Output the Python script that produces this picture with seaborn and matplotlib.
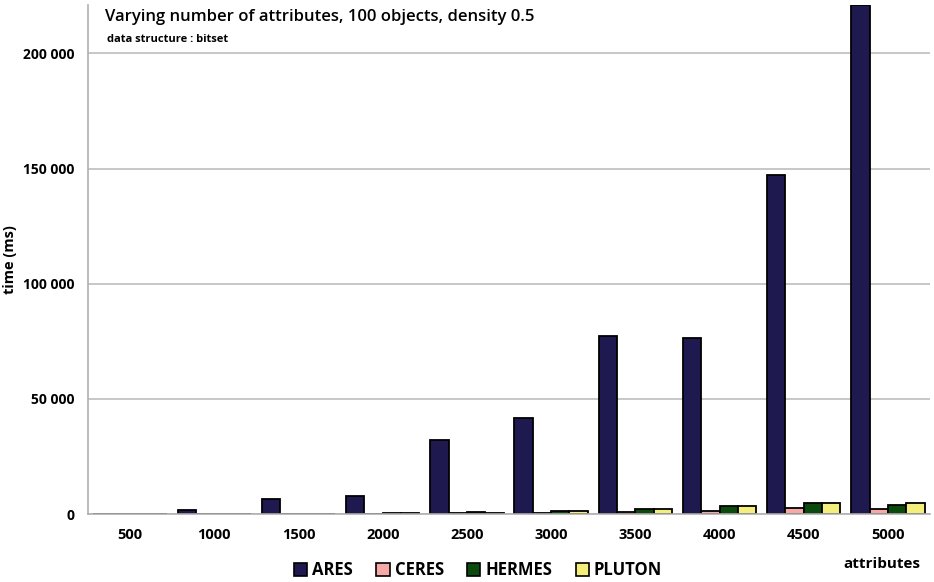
import matplotlib
matplotlib.use("Agg")
import matplotlib.pyplot as plt
import seaborn as sns
import pandas as pd
from matplotlib.patches import Patch
from matplotlib.ticker import FuncFormatter, MultipleLocator

categories = ["500", "1000", "1500", "2000", "2500", "3000", "3500", "4000", "4500", "5000"]
ares   = [150, 1900, 6600, 7900, 32100, 41800, 77200, 76300, 147000, 221000]
ceres  = [100, 120, 150, 200, 250, 600, 700, 1400, 2600, 2200]
hermes = [100, 150, 200, 400, 700, 1200, 2000, 3300, 4600, 4100]
pluton = [100, 150, 200, 300, 500, 1200, 2000, 3300, 4600, 4700]
series = ["ARES", "CERES", "HERMES", "PLUTON"]
colors = ["#1e1a4f", "#f7a9a8", "#0b4a0d", "#f4ef7c"]

rows = []
for name, vals in zip(series, [ares, ceres, hermes, pluton]):
    for c, v in zip(categories, vals):
        rows.append({"attributes": c, "time": v, "algo": name})
df = pd.DataFrame(rows)

sns.set_theme(style="white")
plt.rcParams["font.family"] = ["Open Sans", "DejaVu Sans"]
plt.rcParams["text.color"] = "black"
plt.rcParams["xtick.color"] = "black"
plt.rcParams["ytick.color"] = "black"
plt.rcParams["axes.labelcolor"] = "black"

fig = plt.figure(figsize=(9.34, 5.82), dpi=100)
ax = fig.add_axes([88/934, 1-514/582, (930-88)/934, (514-5)/582])

sns.barplot(data=df, x="attributes", y="time", hue="algo", order=categories,
            hue_order=series, palette=colors, width=0.87, saturation=1,
            edgecolor="black", linewidth=1.3, legend=False, ax=ax, errorbar=None)

ax.set_ylim(0, 221000)
ax.set_xlim(-0.5, len(categories) - 0.5)
ax.yaxis.set_major_locator(MultipleLocator(50000))
ax.yaxis.set_major_formatter(FuncFormatter(lambda v, p: f"{int(v):,}".replace(",", " ")))
ax.grid(axis="y", color="#bdbdbd", linewidth=1.2)
ax.set_axisbelow(True)
for s in ["top", "right"]:
    ax.spines[s].set_visible(False)
for s in ["left", "bottom"]:
    ax.spines[s].set_color("#b0b0b0")
    ax.spines[s].set_linewidth(1.2)

ax.tick_params(axis="y", which="major", length=6, color="#b0b0b0", labelcolor="black",
               width=1.2, labelsize=10, pad=4)
ax.tick_params(axis="x", which="major", length=0, labelsize=10.5, pad=10, labelcolor="black")
ax.set_xticks([i + 0.5 for i in range(-1, len(categories))], minor=True)
ax.tick_params(axis="x", which="minor", length=6, color="#b0b0b0", width=1.2, direction="out")
for lab in ax.get_xticklabels() + ax.get_yticklabels():
    lab.set_fontweight("bold")

ax.set_xlabel("")
ax.set_ylabel("time (ms)", fontsize=10.5, fontweight="bold", color="black")
ax.yaxis.set_label_coords((17 - 88) / 842, 0.5)

fig.text(105/934, 1-17/582, "Varying number of attributes, 100 objects, density 0.5",
         fontsize=12, fontweight="semibold", va="center", ha="left", color="black")
fig.text(107/934, 1-39/582, "data structure : bitset",
         fontsize=8, fontweight="bold", va="center", ha="left", color="black")
fig.text(920/934, 1-564/582, "attributes", fontsize=11, fontweight="bold",
         va="center", ha="right", color="black")

handles = [Patch(facecolor=c, edgecolor="black", linewidth=1.2, label=s)
           for s, c in zip(series, colors)]
leg = fig.legend(handles=handles, loc="center", bbox_to_anchor=(478/934, 1-570/582),
                 ncol=4, frameon=False, prop={"weight": "bold", "size": 12},
                 handlelength=0.8, handleheight=0.8, handletextpad=0.3, columnspacing=1.4)
for t in leg.get_texts():
    t.set_color("black")

fig.savefig("out.png", dpi=100)
